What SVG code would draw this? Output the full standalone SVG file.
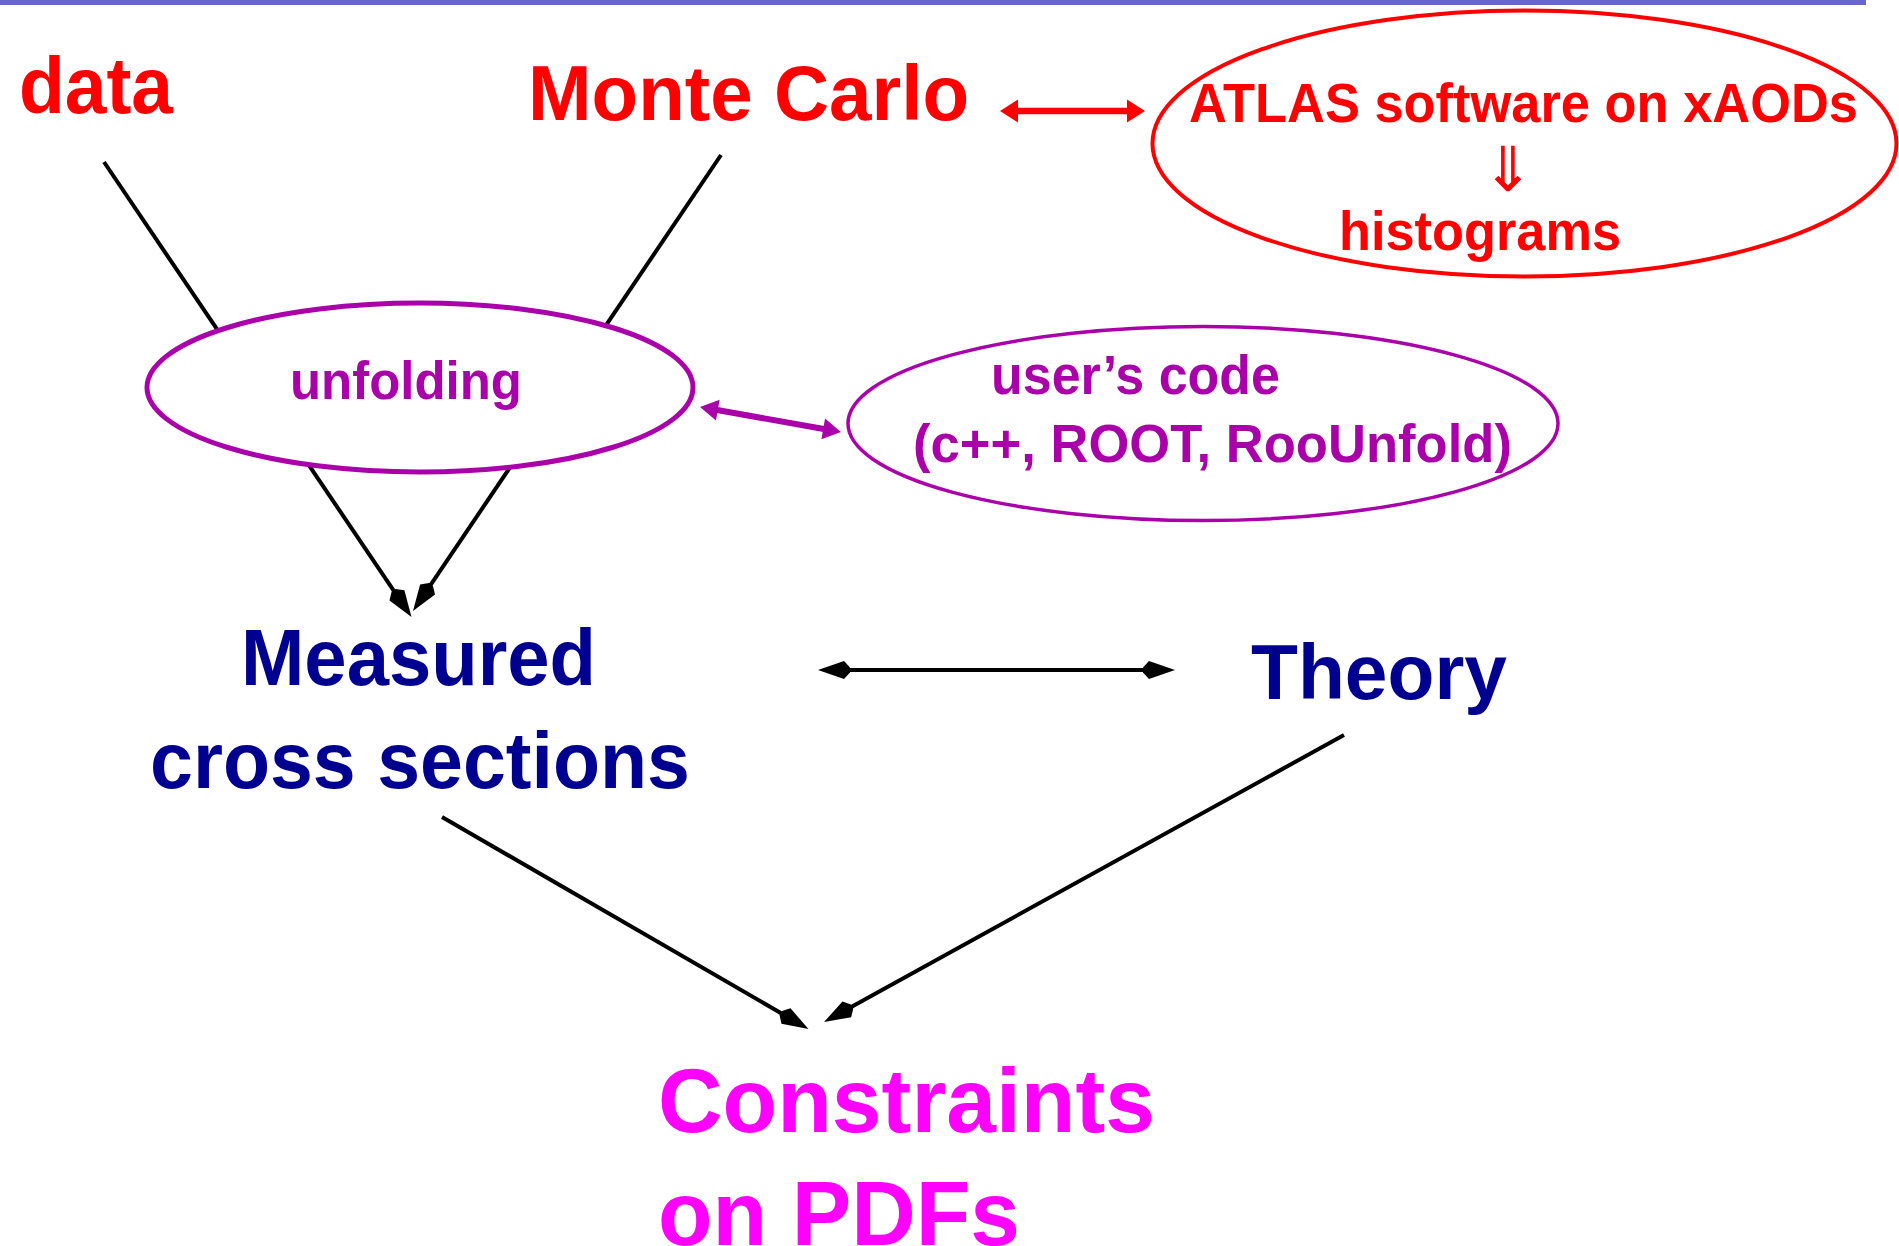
<svg xmlns="http://www.w3.org/2000/svg" width="1899" height="1246" viewBox="0 0 1899 1246">
  <style>
    text { font-family: "Liberation Sans", Arial, Helvetica, sans-serif; font-weight: bold; }
    .red { fill: #ff0000; }
    .purple { fill: #aa00aa; }
    .navy { fill: #000090; }
    .magenta { fill: #ff00ff; }
    .link { stroke: #000; stroke-width: 4; fill: none; }
  </style>
  <defs>
    <!-- black kite-shaped head; reference point sits 30px behind the tip -->
    <marker id="kite" markerUnits="userSpaceOnUse" orient="auto-start-reverse" overflow="visible" refX="0" refY="0" markerWidth="1" markerHeight="1">
      <path d="M30,0 L4,-9 L-2,-2.4 L-2,2.4 L4,9 Z" fill="#000"/>
    </marker>
    <!-- triangular heads; reference point sits 16px behind the tip -->
    <marker id="triRed" markerUnits="userSpaceOnUse" orient="auto-start-reverse" overflow="visible" refX="0" refY="0" markerWidth="1" markerHeight="1">
      <path d="M16,0 L-2,-11.5 L-2,11.5 Z" fill="#ff0000"/>
    </marker>
    <marker id="triPurple" markerUnits="userSpaceOnUse" orient="auto-start-reverse" overflow="visible" refX="0" refY="0" markerWidth="1" markerHeight="1">
      <path d="M16,0 L-2,-10.5 L-2,10.5 Z" fill="#aa00aa"/>
    </marker>
  </defs>

  <!-- title rule -->
  <rect x="0" y="0" width="1866" height="5" fill="#6666cc"/>

  <g id="connectors">
    <!-- data -> measured (passes behind the unfolding ellipse) -->
    <line class="link" x1="104" y1="162" x2="394.7" y2="592.1" marker-end="url(#kite)"/>
    <!-- Monte Carlo -> measured -->
    <line class="link" x1="721" y1="155" x2="429.8" y2="586.1" marker-end="url(#kite)"/>
    <!-- measured -> constraints -->
    <line class="link" x1="442" y1="817" x2="782.5" y2="1014" marker-end="url(#kite)"/>
    <!-- theory -> constraints -->
    <line class="link" x1="1344" y1="735" x2="850.3" y2="1007.5" marker-end="url(#kite)"/>
    <!-- measured <-> theory -->
    <line class="link" x1="848" y1="670" x2="1145" y2="670" stroke-width="5" marker-start="url(#kite)" marker-end="url(#kite)"/>
    <!-- Monte Carlo <-> ATLAS software -->
    <line x1="1016" y1="111" x2="1129" y2="111" stroke="#ff0000" stroke-width="6.5" marker-start="url(#triRed)" marker-end="url(#triRed)"/>
    <!-- unfolding <-> user's code -->
    <line x1="715.8" y1="409.8" x2="825.2" y2="429.2" stroke="#aa00aa" stroke-width="6" marker-start="url(#triPurple)" marker-end="url(#triPurple)"/>
  </g>

  <g id="node-data">
    <text class="red" x="19" y="113" font-size="79" textLength="154" lengthAdjust="spacingAndGlyphs">data</text>
  </g>

  <g id="node-montecarlo">
    <text class="red" x="528" y="120" font-size="78" textLength="441" lengthAdjust="spacingAndGlyphs">Monte Carlo</text>
  </g>

  <g id="node-atlas">
    <ellipse cx="1524.5" cy="143.5" rx="372" ry="133" fill="#fff" stroke="#ff0000" stroke-width="4"/>
    <text class="red" x="1189" y="122" font-size="56" textLength="669" lengthAdjust="spacingAndGlyphs">ATLAS software on xAODs</text>
    <text class="red" x="1508" y="191" font-size="62" text-anchor="middle" style="font-family: 'DejaVu Sans', sans-serif; font-weight: normal;">⇓</text>
    <text class="red" x="1339" y="250" font-size="56" textLength="282" lengthAdjust="spacingAndGlyphs">histograms</text>
  </g>

  <g id="node-unfolding">
    <ellipse cx="420" cy="387.5" rx="273" ry="84.5" fill="#fff" stroke="#aa00aa" stroke-width="5"/>
    <text class="purple" x="290" y="399" font-size="54" textLength="232" lengthAdjust="spacingAndGlyphs">unfolding</text>
  </g>

  <g id="node-usercode">
    <ellipse cx="1203" cy="423.5" rx="355" ry="97" fill="#fff" stroke="#aa00aa" stroke-width="3.5"/>
    <text class="purple" x="991" y="394" font-size="55" textLength="289" lengthAdjust="spacingAndGlyphs">user’s code</text>
    <text class="purple" x="913" y="462" font-size="54" textLength="599" lengthAdjust="spacingAndGlyphs">(c++, ROOT, RooUnfold)</text>
  </g>

  <g id="node-measured">
    <text class="navy" x="241" y="685" font-size="79" textLength="355" lengthAdjust="spacingAndGlyphs">Measured</text>
    <text class="navy" x="150" y="788" font-size="80" textLength="540" lengthAdjust="spacingAndGlyphs">cross sections</text>
  </g>

  <g id="node-theory">
    <text class="navy" x="1251" y="699" font-size="78" textLength="256" lengthAdjust="spacingAndGlyphs">Theory</text>
  </g>

  <g id="node-constraints">
    <text class="magenta" x="658" y="1132" font-size="91" textLength="497" lengthAdjust="spacingAndGlyphs">Constraints</text>
    <text class="magenta" x="658" y="1245" font-size="90" textLength="362" lengthAdjust="spacingAndGlyphs">on PDFs</text>
  </g>
</svg>
